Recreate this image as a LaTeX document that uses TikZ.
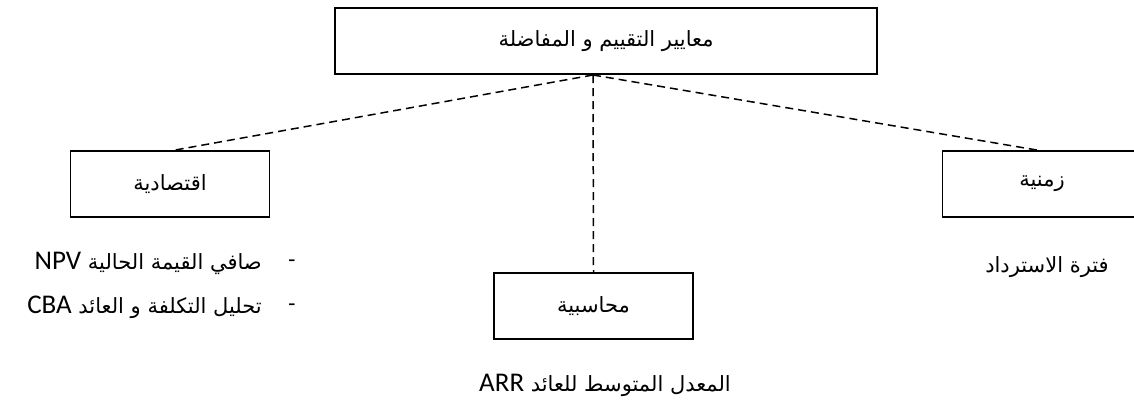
\documentclass[tikz,border=0pt]{standalone}
\usepackage{fontspec}
\TeXXeTstate=1
\newfontfamily\arabicfont[Script=Arabic]{DejaVu Sans}
\newfontfamily\latinfont{Carlito}
\newcommand{\latinpart}[1]{\beginL{\latinfont\fontsize{27}{30}\selectfont #1}\endL}
\begin{document}
\begin{tikzpicture}[x=1pt,y=-1pt,
  box/.style={draw=black,line width=1.9pt,minimum width=199pt,minimum height=66pt,
    inner sep=0pt,font=\arabicfont\fontsize{21}{24}\selectfont},
  link/.style={draw=black,line width=1.5pt,dash pattern=on 8pt off 5pt},
  label/.style={inner sep=0pt,font=\arabicfont\fontsize{21}{24}\selectfont}]
\useasboundingbox (0,0) rectangle (1134,405);
\clip (0,0) rectangle (1134,405);

% criteria boxes
\node[box,minimum width=542pt] (top) at (606,41)
  {\beginR معايير التقييم و المفاضلة\endR};
\node[box] (econ) at (170,184) {\beginR اقتصادية\endR};
\node[box] (time) at (1042,184) {\beginR زمنية\endR};
\node[box] (acct) at (593.5,306) {\beginR محاسبية\endR};

% dashed links from the common point under the title box
\coordinate (hub) at (593,75);
\draw[link] (hub) -- ([xshift=5pt]econ.north);
\draw[link] (hub) -- ([xshift=-5pt]time.north);
\draw[link] (hub) -- (acct.north);

% methods under each box
\node[label] (payback) at (1047,267) {\beginR فترة الاسترداد\endR};
\node[label] (arr) at (605,385)
  {\beginR المعدل المتوسط للعائد \latinpart{ARR}\endR};
\node[label,anchor=east] (npv) at (262,263)
  {\beginR صافي القيمة الحالية \latinpart{NPV}\endR};
\node[label,anchor=east] (cba) at (262,307)
  {\beginR تحليل التكلفة و العائد \latinpart{CBA}\endR};
\node[label] (dashA) at (292,263) {-};
\node[label] (dashB) at (292,307) {-};
\end{tikzpicture}
\end{document}
